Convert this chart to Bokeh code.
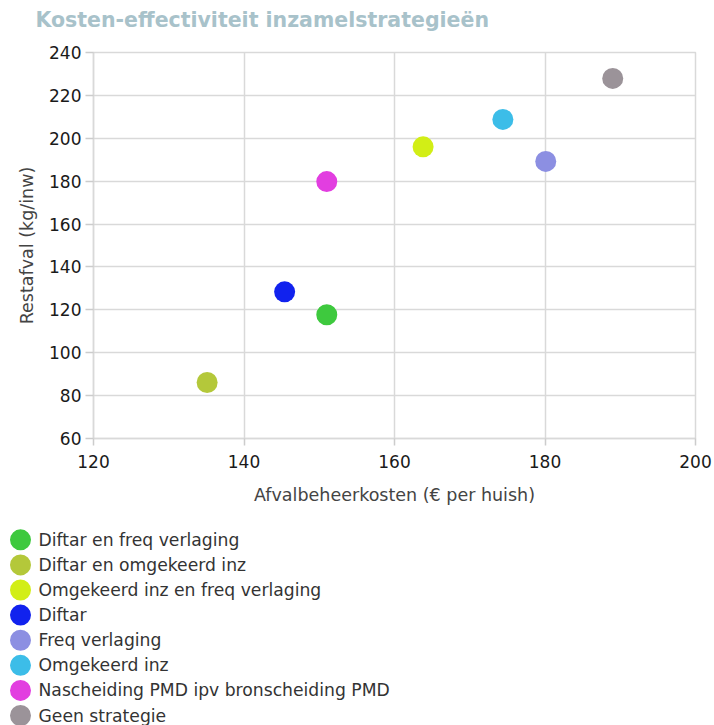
from bokeh.plotting import figure
from bokeh.models import ColumnDataSource, Range1d, FixedTicker, Title
from bokeh.embed import file_html
from bokeh.resources import INLINE
from bokeh.core.properties import value

# ---- data ----
title_text = "Kosten-effectiviteit inzamelstrategieën"
names = [
    "Diftar en freq verlaging",
    "Diftar en omgekeerd inz",
    "Omgekeerd inz en freq verlaging",
    "Diftar",
    "Freq verlaging",
    "Omgekeerd inz",
    "Nascheiding PMD ipv bronscheiding PMD",
    "Geen strategie",
]
costs = [151.0, 135.1, 163.8, 145.4, 180.1, 174.4, 151.0, 189.0]
restafval = [117.7, 86.1, 196.0, 128.4, 189.2, 208.8, 179.8, 227.9]
colors = ["#3ec93e", "#b4c83a", "#d2ee16", "#1122ee",
          "#8c8fe2", "#3cbde8", "#e23ee0", "#9b9399"]
x_ticks = [120, 140, 160, 180, 200]
y_ticks = [60, 80, 100, 120, 140, 160, 180, 200, 220, 240]

FONT = "DejaVu Sans"
GRID = "#d9d9d9"

src = ColumnDataSource(dict(x=costs, y=restafval, c=colors, name=names))

p = figure(width=714, height=520, output_backend="svg", toolbar_location=None,
           x_range=Range1d(x_ticks[0], x_ticks[-1]),
           y_range=Range1d(y_ticks[0], y_ticks[-1]),
           min_border_left=93, min_border_right=19,
           min_border_top=52, min_border_bottom=82)
p.outline_line_color = GRID
p.outline_line_width = 1.5

# spacer panel between frame and title, then the title itself further out
p.add_layout(Title(text=" ", text_font_size="1px", standoff=9), "above")
p.add_layout(Title(text=title_text, text_font=FONT, text_font_size="20.5px",
                   text_font_style="bold", text_color="#a8c2ca",
                   align="left", offset=-58, vertical_align="top",
                   standoff=13), "above")

p.scatter("x", "y", source=src, size=21, fill_color="c", line_color=None)

for ax in (p.xaxis, p.yaxis):
    ax.axis_line_color = GRID
    ax.axis_line_width = 1.5
    ax.major_tick_line_color = "#cccccc"
    ax.major_tick_line_width = 1.5
    ax.major_tick_in = 0
    ax.minor_tick_line_color = None
    ax.major_label_text_font = FONT
    ax.major_label_text_font_size = "17px"
    ax.major_label_text_color = "#1a1a1a"
    ax.axis_label_text_font = FONT
    ax.axis_label_text_font_style = "normal"
    ax.axis_label_text_color = "#444444"

p.xaxis.ticker = FixedTicker(ticks=x_ticks)
p.yaxis.ticker = FixedTicker(ticks=y_ticks)
p.xaxis.major_tick_out = 7
p.yaxis.major_tick_out = 8
p.xaxis.major_label_standoff = 9
p.yaxis.major_label_standoff = 4
p.xaxis.axis_label = "Afvalbeheerkosten (€ per huish)"
p.xaxis.axis_label_text_font_size = "17.5px"
p.xaxis.axis_label_standoff = 14
p.yaxis.axis_label = "Restafval (kg/inw)"
p.yaxis.axis_label_text_font_size = "17.5px"
p.yaxis.axis_label_standoff = 9

p.grid.grid_line_color = GRID
p.grid.grid_line_width = 1.5

# ---- legend as its own small figure (separate root, no frame alignment) ----
idx = list(range(len(names)))
lsrc = ColumnDataSource(dict(x=[0] * len(names), y=idx, c=colors, name=names))
lg = figure(width=714, height=205, output_backend="svg", toolbar_location=None,
            x_range=Range1d(-20, 694), y_range=Range1d(7.398, -0.769),
            x_axis_location=None, y_axis_location=None, min_border=0)
lg.grid.visible = False
lg.outline_line_color = None
lg.scatter("x", "y", source=lsrc, size=21, fill_color="c", line_color=None)
lg.text("x", "y", text="name", source=lsrc, x_offset=18,
        text_baseline="middle", text_font=value(FONT),
        text_font_size="17.2px", text_color="#333333")

open("out.html", "w").write(file_html([p, lg], INLINE))
